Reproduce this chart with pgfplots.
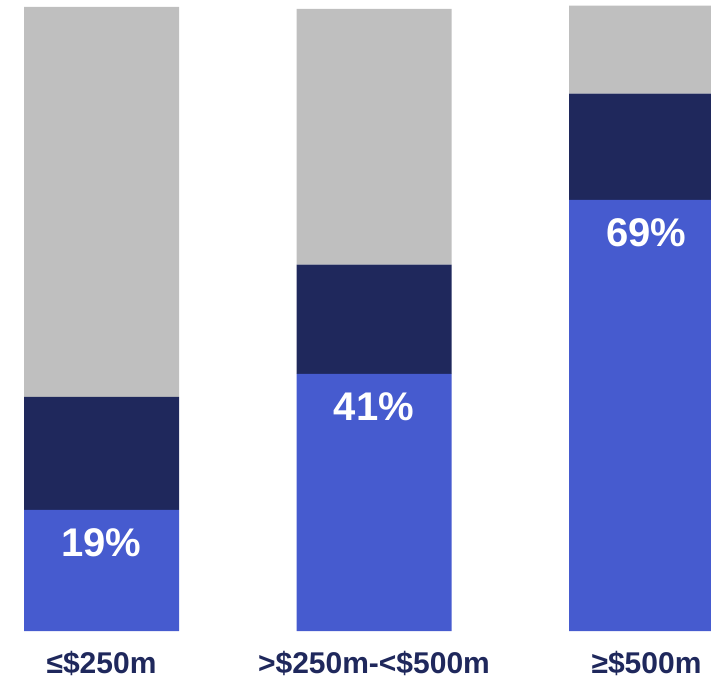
\documentclass[border=0pt]{standalone}
\usepackage{pgfplots}
\pgfplotsset{compat=1.18}
\usepackage{fontspec}
\setmainfont{Liberation Sans}

\definecolor{barblue}{RGB}{70,91,207}
\definecolor{barnavy}{RGB}{31,40,92}
\definecolor{bargray}{RGB}{191,191,191}

\begin{document}
\begin{tikzpicture}
\useasboundingbox (0,-49bp) rectangle (711bp,631bp);
\begin{axis}[
    ybar stacked,
    scale only axis,
    width=711bp, height=631bp,
    xmin=-0.3725, xmax=2.2367,
    ymin=0, ymax=101.12,
    bar width=155bp,
    axis line style={draw=none},
    major tick length=0pt,
    ytick=\empty,
    xtick={0,1,2},
    xticklabels={{≤\$250m},{>\$250m-<\$500m},{≥\$500m}},
    xticklabel style={anchor=base, yshift=-42bp, text=barnavy,
        font=\bfseries\fontsize{30bp}{30bp}\selectfont},
    /pgf/number format/assume math mode=true,
]
% share of each band; the label sits near the top of the blue part
\addplot[fill=barblue, draw=none,
    visualization depends on=rawy \as \rawy,
    nodes near coords={\pgfmathprintnumber[fixed,precision=0]{\pgfplotspointmeta}\%},
    every node near coord/.append style={anchor=center,
        yshift={\rawy*3.12bp-33bp},
        text=white, font=\bfseries\fontsize{40bp}{40bp}\selectfont}]
    coordinates {(0,19.4) (1,41.2) (2,69.1)};
\addplot[fill=barnavy, draw=none]
    coordinates {(0,18.1) (1,17.5) (2,17.0)};
\addplot[fill=bargray, draw=none]
    coordinates {(0,62.5) (1,41.0) (2,14.1)};
\end{axis}
\end{tikzpicture}
\end{document}
